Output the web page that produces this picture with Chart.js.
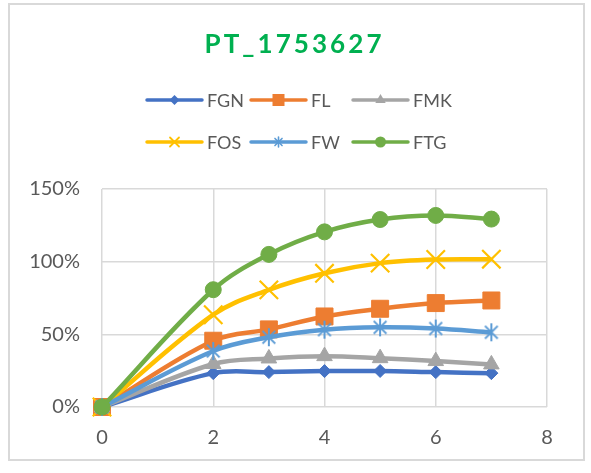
<!DOCTYPE html>
<html>
<head>
<meta charset="utf-8">
<script src="https://cdn.jsdelivr.net/npm/chart.js@4.4.1/dist/chart.umd.min.js"></script>
<style>
html,body{margin:0;padding:0;background:#fff;}
#wrap{position:relative;width:591px;height:473px;}
</style>
</head>
<body>
<div id="wrap"><canvas id="c" width="591" height="473"></canvas></div>
<script>
const titleText = 'PT_1753627';
const xValues = [0, 2, 3, 4, 5, 6, 7];
const seriesNames = ['FGN', 'FL', 'FMK', 'FOS', 'FW', 'FTG'];
const FGN = [0, 23.3, 24, 24.7, 24.8, 24, 23.3];
const FL  = [0, 45.6, 53.4, 62.3, 67.6, 71.5, 73.3];
const FMK = [0, 29.6, 33.4, 35, 33.6, 31.6, 29.3];
const FOS = [0, 63.5, 80.6, 92, 99, 101.5, 101.7];
const FW  = [0, 38.5, 48, 53.2, 54.8, 54, 51.4];
const FTG = [0, 80.7, 105, 120.5, 129, 131.8, 129.3];
const xTicks = [0, 2, 4, 6, 8];
const yTicks = [0, 50, 100, 150];

const colors = ['#4472C4', '#ED7D31', '#A5A5A5', '#FFC000', '#5B9BD5', '#70AD47'];
const styles = ['rectRot', 'rect', 'triangle', 'crossRot', 'asterisk', 'circle'];
const radii = [6.5, 12, 9, 13, 9, 8];
const FONT = 'Lato, "Open Sans", sans-serif';
const TEXT = '#595959';

function asteriskCanvas(size, color, lw) {
  const cv = document.createElement('canvas');
  cv.width = size; cv.height = size;
  const c = cv.getContext('2d');
  const m = size / 2, r = size / 2 - 1, d = r * Math.SQRT1_2;
  c.strokeStyle = color; c.lineWidth = lw; c.lineCap = 'butt';
  c.beginPath();
  c.moveTo(m - d, m - d); c.lineTo(m + d, m + d);
  c.moveTo(m + d, m - d); c.lineTo(m - d, m + d);
  c.moveTo(m, m - r); c.lineTo(m, m + r);
  c.stroke();
  return cv;
}

const allSeries = [FGN, FL, FMK, FOS, FW, FTG];
const datasets = allSeries.map((vals, i) => ({
  label: seriesNames[i],
  data: xValues.map((x, j) => ({x: x, y: vals[j]})),
  showLine: true,
  clip: false,
  borderColor: colors[i],
  backgroundColor: colors[i],
  borderWidth: 4.5,
  tension: 0.35,
  pointStyle: styles[i] === 'asterisk' ? asteriskCanvas(20, colors[i], 2) : styles[i],
  pointRadius: radii[i],
  pointBorderWidth: (styles[i] === 'crossRot') ? 2.2 : 1,
  pointBorderColor: colors[i],
  pointBackgroundColor: colors[i],
  order: 6 - i
}));

function drawMarker(ctx, style, x, y, r, color) {
  ctx.save();
  ctx.fillStyle = color; ctx.strokeStyle = color;
  ctx.beginPath();
  if (style === 'rectRot') {
    ctx.moveTo(x - r, y); ctx.lineTo(x, y - r); ctx.lineTo(x + r, y); ctx.lineTo(x, y + r); ctx.closePath(); ctx.fill();
  } else if (style === 'rect') {
    ctx.rect(x - r, y - r, 2 * r, 2 * r); ctx.fill();
  } else if (style === 'triangle') {
    ctx.moveTo(x, y - r); ctx.lineTo(x + r * 0.866, y + r / 2); ctx.lineTo(x - r * 0.866, y + r / 2); ctx.closePath(); ctx.fill();
  } else if (style === 'crossRot') {
    ctx.lineWidth = 1.8;
    ctx.moveTo(x - r, y - r); ctx.lineTo(x + r, y + r); ctx.moveTo(x + r, y - r); ctx.lineTo(x - r, y + r); ctx.stroke();
  } else if (style === 'asterisk') {
    ctx.lineWidth = 1.6;
    const d = r * Math.SQRT1_2;
    ctx.moveTo(x - d, y - d); ctx.lineTo(x + d, y + d); ctx.moveTo(x + d, y - d); ctx.lineTo(x - d, y + d);
    ctx.moveTo(x, y - r); ctx.lineTo(x, y + r); ctx.stroke();
  } else {
    ctx.arc(x, y, r, 0, Math.PI * 2); ctx.fill();
  }
  ctx.restore();
}

const legendPos = [[147, 100], [251, 100], [353, 100], [147, 142], [251, 142], [353, 142]];
const legendMarkerR = [5, 6, 6, 4.5, 5, 5.5];

const deco = {
  id: 'deco',
  beforeDraw(chart) {
    const ctx = chart.ctx;
    ctx.save();
    ctx.fillStyle = '#fff';
    ctx.fillRect(0, 0, chart.width, chart.height);
    ctx.strokeStyle = '#D9D9D9';
    ctx.lineWidth = 2;
    ctx.strokeRect(9, 4, 575, 456);
    ctx.restore();
  },
  afterDraw(chart) {
    const ctx = chart.ctx;
    ctx.save();
    ctx.font = 'bold 26px ' + FONT;
    ctx.fillStyle = '#00B050';
    ctx.textBaseline = 'alphabetic';
    ctx.textAlign = 'left';
    const chars = titleText.split('');
    const widths = chars.map(ch => ctx.measureText(ch).width);
    const raw = widths.reduce((a, b) => a + b, 0);
    const targetW = 177;
    const sp = (targetW - raw) / (chars.length - 1);
    let tx = 293 - targetW / 2;
    chars.forEach((ch, i) => { ctx.fillText(ch, tx, 52.5); tx += widths[i] + sp; });
    ctx.font = '18px ' + FONT;
    seriesNames.forEach((name, i) => {
      const [x0, y] = legendPos[i];
      ctx.strokeStyle = colors[i];
      ctx.lineWidth = 3.5;
      ctx.lineCap = 'round';
      ctx.beginPath(); ctx.moveTo(x0, y); ctx.lineTo(x0 + 55, y); ctx.stroke();
      drawMarker(ctx, styles[i], x0 + 27.5, y, legendMarkerR[i], colors[i]);
      ctx.fillStyle = TEXT;
      ctx.textBaseline = 'middle';
      ctx.fillText(name, x0 + 60, y + 1);
    });
    ctx.restore();
  }
};

new Chart(document.getElementById('c'), {
  type: 'scatter',
  data: { datasets: datasets },
  plugins: [deco],
  options: {
    responsive: false,
    animation: false,
    devicePixelRatio: 1,
    layout: { padding: { top: 189, right: 44, left: 0, bottom: 0 } },
    plugins: { legend: { display: false }, tooltip: { enabled: false }, title: { display: false } },
    scales: {
      x: {
        type: 'linear', min: 0, max: 8,
        afterBuildTicks: (axis) => { axis.ticks = xTicks.map(v => ({value: v})); },
        afterFit: (axis) => { axis.height = 66; },
        grid: { color: '#D9D9D9', lineWidth: 1.5, drawTicks: false },
        border: { display: false },
        ticks: { padding: 19, color: TEXT, font: { family: FONT, size: 20 } }
      },
      y: {
        type: 'linear', min: 0, max: 150,
        afterBuildTicks: (axis) => { axis.ticks = yTicks.map(v => ({value: v})); },
        afterFit: (axis) => { axis.width = 102; },
        grid: { color: '#D9D9D9', lineWidth: 1.5, drawTicks: false },
        border: { display: false },
        ticks: { padding: 22, color: TEXT, font: { family: FONT, size: 20 }, callback: (v) => v + '%' }
      }
    }
  }
});
</script>
</body>
</html>
